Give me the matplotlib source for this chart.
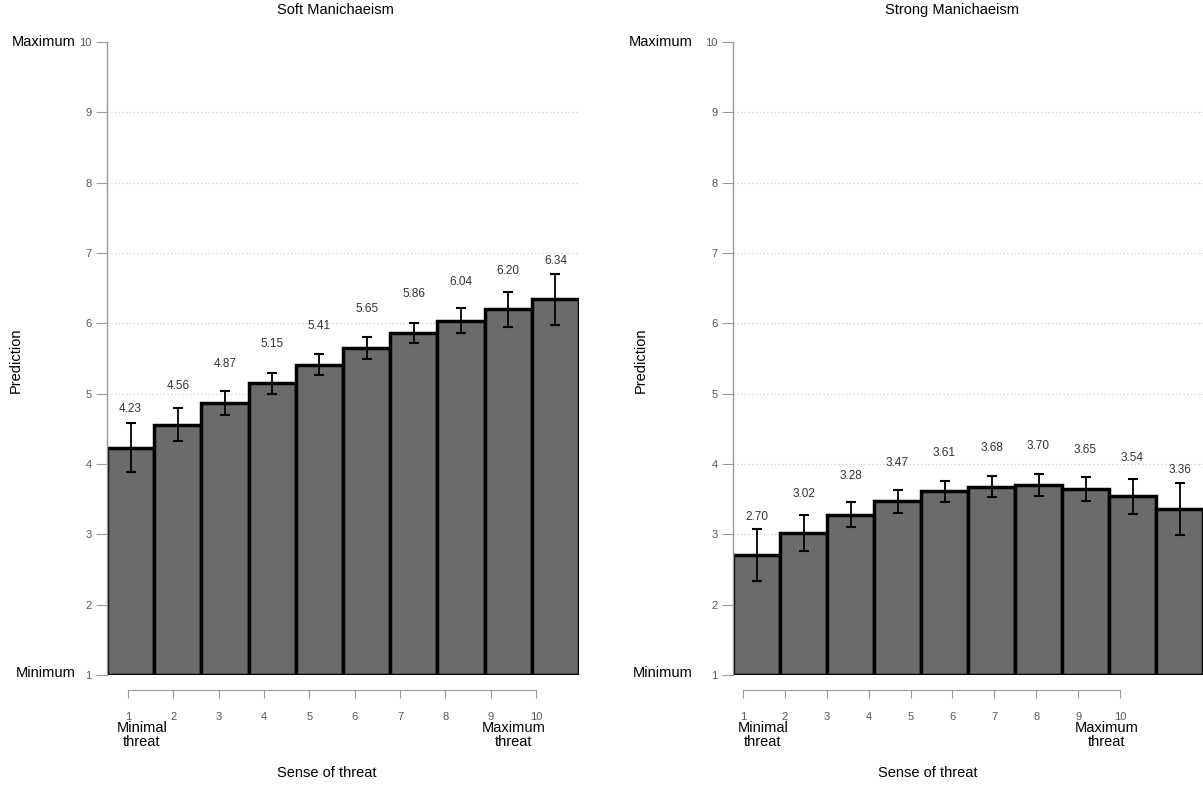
import numpy as np
import matplotlib.pyplot as plt

plt.rcParams['font.family'] = ['Liberation Sans', 'DejaVu Sans']

threat = np.arange(1, 11)
soft_mean = [4.23, 4.56, 4.87, 5.15, 5.41, 5.65, 5.86, 6.04, 6.20, 6.34]
soft_err = [0.35, 0.24, 0.17, 0.15, 0.15, 0.15, 0.14, 0.18, 0.25, 0.36]
strong_mean = [2.70, 3.02, 3.28, 3.47, 3.61, 3.68, 3.70, 3.65, 3.54, 3.36]
strong_err = [0.37, 0.25, 0.18, 0.16, 0.15, 0.15, 0.16, 0.17, 0.25, 0.37]
y_ticks = list(range(1, 11))

W, H = 1203, 785
BAR = "#6b6b6b"
SPINE = "#9a9a9a"
TICKTXT = "#555555"


def fx(px):
    return px / W


def fy(py):
    return (H - py) / H


fig = plt.figure(figsize=(W / 100, H / 100), dpi=100)


def panel(left_px, right_px, tick1_px, tick10_px, means, errs, title,
          title_x, ylab_x, min_x, max_x, sense_x, minlab_right):
    ax = fig.add_axes([fx(left_px), fy(675), fx(right_px - left_px), (675 - 42) / H])
    ax.bar(threat, [m - 1 for m in means], bottom=1, width=1.0, color=BAR,
           edgecolor="black", linewidth=2.5, zorder=2)
    ax.errorbar(threat, means, yerr=errs, fmt="none", ecolor="black",
                elinewidth=1.3, capsize=3.5, capthick=1.5, zorder=3)
    for x, m in zip(threat, means):
        ax.text(x, m + 0.55, f"{m:.2f}", ha="center", va="center",
                fontsize=8.5, color="#333333", zorder=4)
    ax.set_xlim(0.5, 10.5)
    ax.set_ylim(1, 10)
    ax.set_yticks(y_ticks)
    ax.set_yticklabels([str(t) for t in y_ticks])
    ax.tick_params(axis="y", length=8, width=0.8, color=SPINE,
                   labelsize=8, labelcolor=TICKTXT, pad=3)
    ax.set_xticks([])
    for s in ["top", "right", "bottom"]:
        ax.spines[s].set_visible(False)
    ax.spines["left"].set_color(SPINE)
    ax.spines["left"].set_linewidth(1.0)
    for t in y_ticks[1:-1]:
        ax.axhline(t, color="#d0d0d0", linestyle=(0, (1, 2)), linewidth=0.9, zorder=0)
    ax.patch.set_alpha(0)

    fig.text(fx(minlab_right), fy(42), "Maximum", ha="right", va="center", fontsize=10.5)
    fig.text(fx(minlab_right), fy(673), "Minimum", ha="right", va="center", fontsize=10.5)
    fig.text(fx(title_x), fy(10), title, ha="center", va="center", fontsize=10.5)
    fig.text(fx(ylab_x), fy(360), "Prediction", ha="center", va="center",
             rotation=90, fontsize=10.5)

    axx = fig.add_axes([fx(tick1_px), fy(690), fx(tick10_px - tick1_px), 0.0001])
    axx.set_xlim(1, 10)
    axx.set_xticks(threat)
    axx.set_xticklabels([str(t) for t in threat])
    axx.set_yticks([])
    for s in ["top", "right", "left"]:
        axx.spines[s].set_visible(False)
    axx.spines["bottom"].set_color(SPINE)
    axx.tick_params(axis="x", length=6, width=0.8, color=SPINE,
                    labelsize=8, labelcolor=TICKTXT, pad=10)
    axx.patch.set_alpha(0)

    fig.text(fx(min_x), fy(735), "Minimal\nthreat", ha="center", va="center",
             fontsize=10.5, linespacing=0.95)
    fig.text(fx(max_x), fy(735), "Maximum\nthreat", ha="center", va="center",
             fontsize=10.5, linespacing=0.95)
    fig.text(fx(sense_x), fy(773), "Sense of threat", ha="center", va="center",
             fontsize=10.5)


panel(107, 579, 128, 536, soft_mean, soft_err, "Soft Manichaeism",
      335, 16, 142, 514, 327, 76)
panel(733, 1203, 743, 1120, strong_mean, strong_err, "Strong Manichaeism",
      952, 641, 763, 1107, 928, 693)

fig.savefig("out.png", dpi=100)
